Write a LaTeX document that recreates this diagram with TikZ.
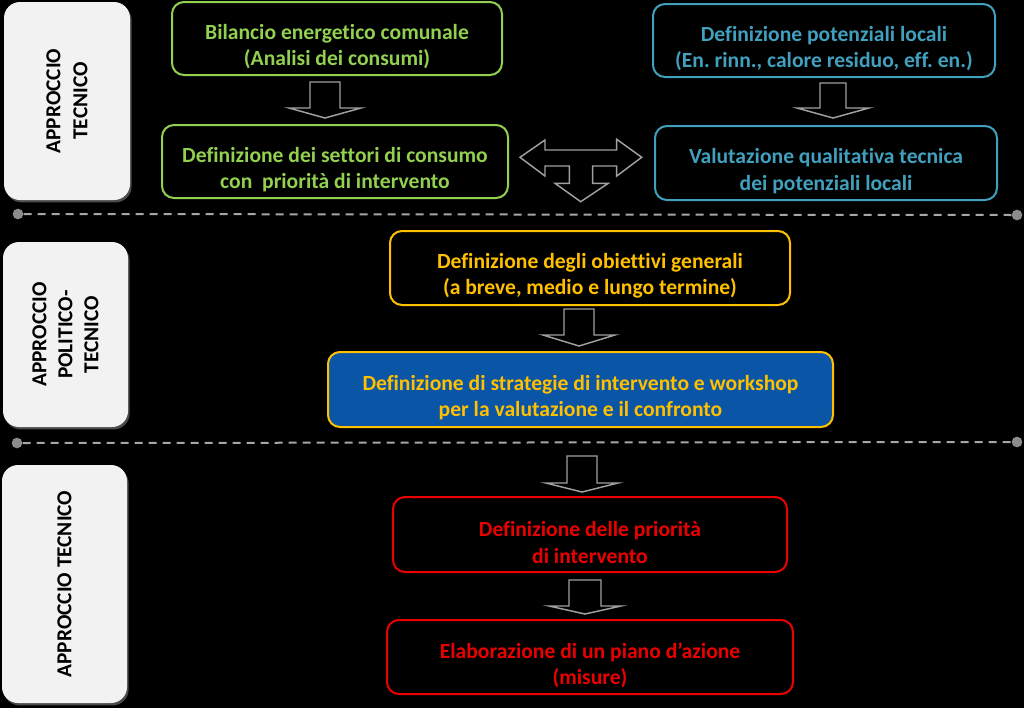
\documentclass[tikz,border=0pt]{standalone}
\usepackage{fontspec}
\setmainfont{Carlito}[Ligatures={TeX,NoCommon}]
\usetikzlibrary{calc,shadows}
\definecolor{cgreen}{RGB}{146,208,80}
\definecolor{cteal}{RGB}{64,160,190}
\definecolor{cyel}{RGB}{255,192,0}
\definecolor{cred}{RGB}{235,0,0}
\definecolor{cblue}{RGB}{10,85,165}
\definecolor{cpanel}{RGB}{242,242,242}
\definecolor{carrow}{RGB}{160,160,160}
\definecolor{cdash}{RGB}{166,166,166}
\definecolor{cdot}{RGB}{140,140,140}
\frenchspacing
\begin{document}
\begin{tikzpicture}[x=0.75pt,y=-0.75pt,
  sz/.style 2 args={minimum width=#1*0.75pt, minimum height=#2*0.75pt},
  box/.style={draw, line width=1.5pt, rounded corners=9pt, inner sep=0pt},
  txt/.style={align=center, font=\bfseries\fontsize{16.2}{19.8}\selectfont, inner sep=0pt},
  panel/.style={fill=cpanel, rounded corners=12pt, inner sep=0pt,
    drop shadow={shadow xshift=1.2pt, shadow yshift=-1.8pt, fill=black!70, opacity=1}},
  ptxt/.style={rotate=90, align=center, font=\bfseries\fontsize{16}{20.3}\selectfont, text=black, inner sep=0pt},
  blockarrow/.style={draw=carrow, line width=1.1pt, line join=miter},
  sep/.style={draw=cdash, line width=1.5pt, dash pattern=on 6pt off 4.5pt},
  dot/.style={circle, fill=cdot, inner sep=0pt, minimum size=8pt}]
\fill[black] (0,0) rectangle (1024,708);
\useasboundingbox (0,0) rectangle (1024,708);

\newcommand{\dnarrow}[5]{% cx, top, bottom, shaft half width, head height
  \draw[blockarrow] ({#1-#4},#2) -- ({#1+#4},#2) -- ({#1+#4},{#3-#5}) -- ({#1+36},{#3-#5})
    -- (#1,#3) -- ({#1-36},{#3-#5}) -- ({#1-#4},{#3-#5}) -- cycle;}

% left panels
\node[panel, sz={126}{198}] (p1) at (67,101) {};
\node[ptxt] (p1t) at (p1.center) {APPROCCIO\\TECNICO};
\node[panel, sz={125}{185}] (p2) at (65.5,334.5) {};
\node[ptxt, font=\bfseries\fontsize{16}{19.5}\selectfont] (p2t) at (p2.center) {APPROCCIO\\POLITICO-\\TECNICO};
\node[panel, sz={125}{238}] (p3) at (64.5,584) {};
\node[ptxt] (p3t) at (p3.center) {APPROCCIO TECNICO};

% separators
\node[dot] (d1l) at (18,214) {};
\node[dot] (d1r) at (1017,215) {};
\draw[sep] (d1l) -- (d1r);
\node[dot] (d2l) at (17,443) {};
\node[dot] (d2r) at (1017,442) {};
\draw[sep] (d2l) -- (d2r);

% green column
\node[box, draw=cgreen, sz={330}{73}] (g1) at (337,38.5) {};
\node[txt, text=cgreen] (g1t) at ($(g1.center)+(0,8)$) {Bilancio energetico comunale\\(Analisi dei consumi)};
\node[box, draw=cgreen, sz={346}{73}] (g2) at (335,161.5) {};
\node[txt, text=cgreen] (g2t) at ($(g2.center)+(0,8)$) {Definizione dei settori di consumo\\con\ \ priorità di intervento};

% teal column
\node[box, draw=cteal, sz={342}{73}] (b1) at (824,40.5) {};
\node[txt, text=cteal] (b1t) at ($(b1.center)+(0,8)$) {Definizione potenziali locali\\(En. rinn., calore residuo, eff. en.)};
\node[box, draw=cteal, sz={342}{74}] (b2) at (826,163) {};
\node[txt, text=cteal] (b2t) at ($(b2.center)+(0,8)$) {Valutazione qualitativa tecnica\\dei potenziali locali};

% middle
\node[box, draw=cyel, sz={400}{74}] (y1) at (590,268) {};
\node[txt, text=cyel] (y1t) at ($(y1.center)+(0,8)$) {Definizione degli obiettivi generali\\(a breve, medio e lungo termine)};
\node[box, draw=cyel, fill=cblue, sz={505}{75}] (y2) at (580.5,389.5) {};
\node[txt, text=cyel] (y2t) at ($(y2.center)+(0,8)$) {Definizione di strategie di intervento e workshop\\per la valutazione e il confronto};

% bottom
\node[box, draw=cred, sz={394}{75}] (r1) at (590,534.5) {};
\node[txt, text=cred] (r1t) at ($(r1.center)+(0,8)$) {Definizione delle priorità\\di intervento};
\node[box, draw=cred, sz={406}{74}] (r2) at (590,657) {};
\node[txt, text=cred] (r2t) at ($(r2.center)+(0,8)$) {Elaborazione di un piano d’azione\\(misure)};

% block arrows
\dnarrow{325}{82}{118}{15}{10}
\dnarrow{833}{83}{118}{13}{10}
\dnarrow{579}{309}{346}{15}{11}
\dnarrow{582}{456}{492}{15}{9}
\dnarrow{585}{580}{614}{16}{8}

% T-shaped triple arrow
\draw[blockarrow] (520,157.3) -- (545,140) -- (545,150) -- (616.7,150) -- (616.7,139.3)
  -- (641.7,157.3) -- (616.7,176) -- (616.7,166) -- (592.7,166) -- (592.7,183.3)
  -- (608.3,183.3) -- (580.7,201.7) -- (555,183.3) -- (569.3,183.3) -- (569.3,166)
  -- (545,166) -- (545,176) -- cycle;
\end{tikzpicture}
\end{document}
